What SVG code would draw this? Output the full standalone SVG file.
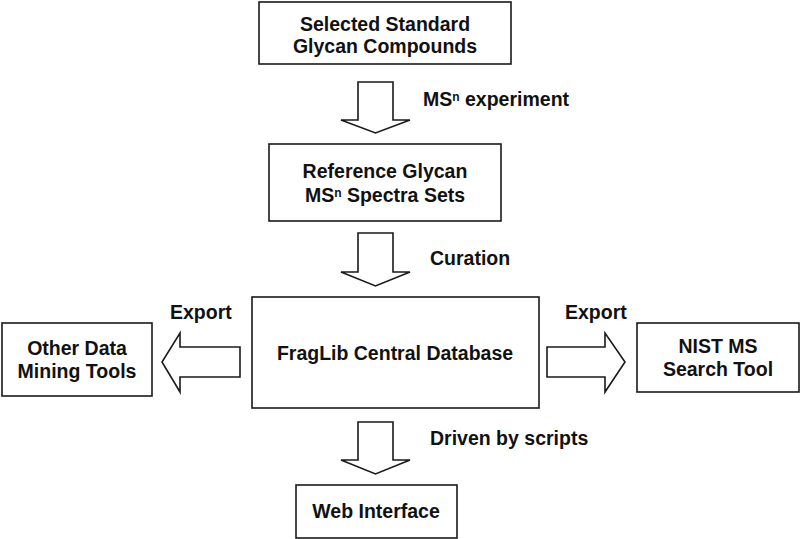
<svg xmlns="http://www.w3.org/2000/svg" width="800" height="539" viewBox="0 0 800 539">
<style>
.box{fill:#fff;stroke:#1a1a1a;stroke-width:1.6}
.arr{fill:#fff;stroke:#1a1a1a;stroke-width:1.6;stroke-linejoin:miter}
text{font-family:"Liberation Sans",Arial,sans-serif;font-weight:bold;font-size:19.5px;fill:#111}
.c{text-anchor:middle}
.sup{font-size:12px}
</style>
<rect width="800" height="539" fill="#fff"/>
<g id="connectors">
<polygon class="arr" points="358,82 393,82 393,120 410,120 375.5,133 341,120 358,120"/>
<polygon class="arr" points="358,233 393,233 393,272 410,272 375.5,286 341,272 358,272"/>
<polygon class="arr" points="358,422 393,422 393,460 410,460 375.5,474 341,460 358,460"/>
<polygon class="arr" points="240,347 180,347 180,333 162,362 180,392 180,377 240,377"/>
<polygon class="arr" points="547,347 605,347 605,333 625,362 605,392 605,377 547,377"/>
<text x="423" y="106">MS<tspan class="sup" dy="-5">n</tspan><tspan dy="5"> experiment</tspan></text>
<text x="430" y="265">Curation</text>
<text x="430" y="445">Driven by scripts</text>
<text x="170" y="319">Export</text>
<text x="565" y="319">Export</text>
</g>
<g id="selected">
<rect class="box" x="259" y="2" width="252" height="62"/>
<text class="c" x="385" y="31">Selected Standard</text>
<text class="c" x="385" y="53">Glycan Compounds</text>
</g>
<g id="reference">
<rect class="box" x="269" y="144" width="232" height="77"/>
<text class="c" x="385" y="178">Reference Glycan</text>
<text class="c" x="385" y="202">MS<tspan class="sup" dy="-5">n</tspan><tspan dy="5"> Spectra Sets</tspan></text>
</g>
<g id="fraglib">
<rect class="box" x="252" y="297" width="287" height="111"/>
<text class="c" x="395" y="360">FragLib Central Database</text>
</g>
<g id="other">
<rect class="box" x="2" y="323" width="150" height="73"/>
<text class="c" x="77" y="355">Other Data</text>
<text class="c" x="77" y="378">Mining Tools</text>
</g>
<g id="nist">
<rect class="box" x="637" y="323" width="162" height="69"/>
<text class="c" x="718" y="353">NIST MS</text>
<text class="c" x="718" y="376">Search Tool</text>
</g>
<g id="web">
<rect class="box" x="296" y="485" width="161" height="53"/>
<text class="c" x="376" y="518">Web Interface</text>
</g>
</svg>
